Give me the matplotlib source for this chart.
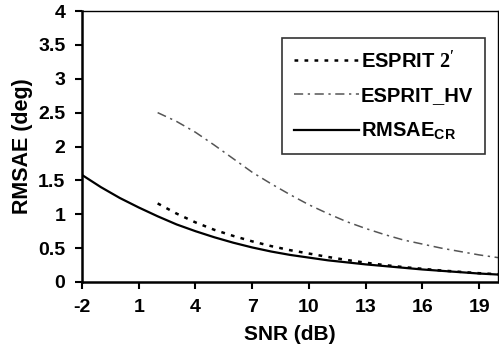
import matplotlib
matplotlib.use("Agg")
import matplotlib.pyplot as plt

# SNR grid (dB) and curves
snr_cr = [-2, -1, 0, 1, 2, 3, 4, 5, 6, 7, 8, 9, 10, 11, 12, 13, 14, 15, 16, 17, 18, 19, 20]
rmsae_cr = [1.58, 1.40, 1.24, 1.10, 0.97, 0.85, 0.75, 0.66, 0.58, 0.51, 0.45, 0.40,
            0.36, 0.32, 0.29, 0.26, 0.235, 0.21, 0.185, 0.165, 0.145, 0.125, 0.11]

snr_esp = [2, 3, 4, 5, 6, 7, 8, 9, 10, 11, 12, 13, 14, 15, 16, 17, 18, 19, 20]
esprit_2p = [1.16, 1.01, 0.88, 0.77, 0.68, 0.60, 0.53, 0.47, 0.42, 0.37, 0.325, 0.285,
             0.25, 0.22, 0.195, 0.17, 0.15, 0.13, 0.115]
esprit_hv = [2.50, 2.37, 2.21, 2.02, 1.82, 1.62, 1.45, 1.29, 1.14, 1.01, 0.89, 0.79,
             0.70, 0.62, 0.56, 0.50, 0.45, 0.40, 0.36]

x_ticks = [-2, 1, 4, 7, 10, 13, 16, 19]
y_ticks = [0, 0.5, 1, 1.5, 2, 2.5, 3, 3.5, 4]

plt.rcParams['font.family'] = ['Liberation Sans', 'DejaVu Sans']
plt.rcParams['font.weight'] = 'bold'
plt.rcParams['axes.unicode_minus'] = False
plt.rcParams['mathtext.fontset'] = 'custom'
plt.rcParams['mathtext.bf'] = 'Liberation Sans:bold'
plt.rcParams['mathtext.rm'] = 'Liberation Serif'

fig = plt.figure(figsize=(4.99, 3.52), dpi=100)
ax = fig.add_axes([82 / 499, 70 / 352, 416 / 499, 271 / 352])

ax.plot(snr_esp, esprit_2p, color='black', lw=1.8, linestyle=(0, (1.5, 2.5)),
        label=r"ESPRIT $\mathrm{2'}$")
ax.plot(snr_esp, esprit_hv, color='#555555', lw=1.1, linestyle=(0, (6, 3, 1.5, 3)),
        label='ESPRIT_HV')
ax.plot(snr_cr, rmsae_cr, color='black', lw=1.6, label=r'RMSAE$_{\mathbf{CR}}$')

ax.set_xlim(-2, 20)
ax.set_ylim(0, 4)
ax.set_xticks(x_ticks)
ax.set_yticks(y_ticks)
ax.set_yticklabels([f"{v:g}" for v in y_ticks])
ax.tick_params(labelsize=14, width=1.5, length=5, direction='out', pad=7)
ax.set_xlabel('SNR (dB)', fontsize=15, fontweight='bold', labelpad=7)
ax.set_ylabel('RMSAE (deg)', fontsize=15.5, fontweight='bold', labelpad=4)

for side in ['left', 'bottom']:
    ax.spines[side].set_linewidth(1.8)
for side in ['top', 'right']:
    ax.spines[side].set_linewidth(1.0)

leg = ax.legend(loc='upper right', bbox_to_anchor=(0.993, 0.937), fontsize=14.5,
                frameon=True, fancybox=False, edgecolor='black', handlelength=3.2,
                handletextpad=0.1, labelspacing=0.75, borderpad=0.6)
leg.get_frame().set_linewidth(1.2)
for t in leg.get_texts():
    t.set_fontweight('bold')

fig.savefig('out.png', dpi=100)
